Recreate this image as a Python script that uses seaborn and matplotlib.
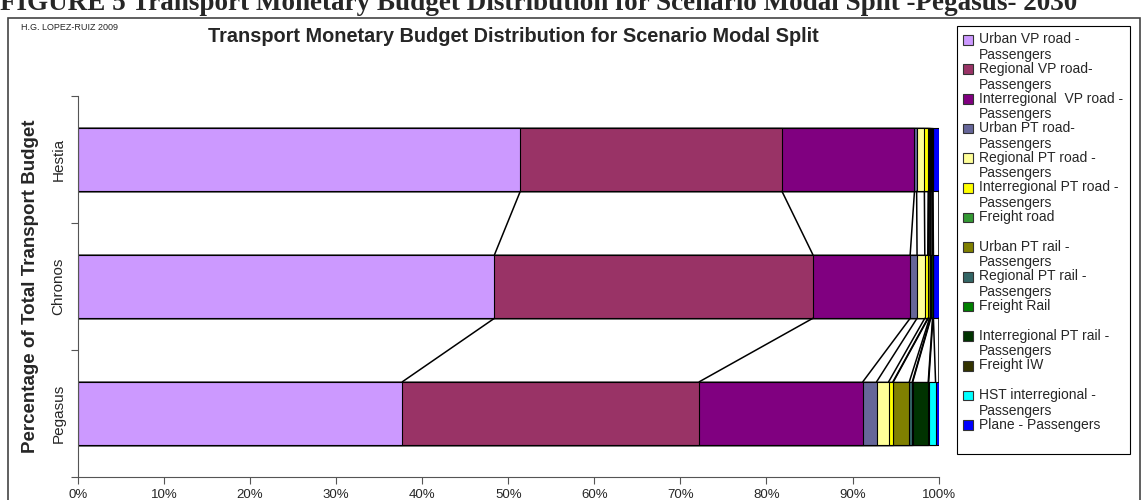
import matplotlib
matplotlib.use('Agg')
import matplotlib.pyplot as plt
import matplotlib.patches as mpatches
from matplotlib.legend_handler import HandlerPatch
from matplotlib.ticker import PercentFormatter
import seaborn as sns
import pandas as pd
import numpy as np

# scenarios (top to bottom) and transport modes (stack order)
scenarios = ['Hestia', 'Chronos', 'Pegasus']
modes = ['Urban VP road -\nPassengers', 'Regional VP road-\nPassengers',
         'Interregional  VP road -\nPassengers', 'Urban PT road-\nPassengers',
         'Regional PT road -\nPassengers', 'Interregional PT road -\nPassengers',
         'Freight road\n ', 'Urban PT rail -\nPassengers', 'Regional PT rail -\nPassengers',
         'Freight Rail\n ', 'Interregional PT rail -\nPassengers', 'Freight IW\n ',
         'HST interregional -\nPassengers', 'Plane - Passengers\n ']
colors = ['#CC99FF', '#993366', '#800080', '#666699', '#FFFF99', '#FFFF00', '#339933',
          '#808000', '#336666', '#008000', '#003300', '#333300', '#00FFFF', '#0000FF']

# share of total budget (%) per mode
hestia = [51.4, 30.4, 15.4, 0.25, 0.9, 0.45, 0.05, 0.1, 0.1, 0.05, 0.15, 0.05, 0.05, 0.65]
chronos = [48.4, 37.0, 11.3, 0.8, 0.9, 0.35, 0.05, 0.15, 0.1, 0.05, 0.2, 0.05, 0.05, 0.6]
pegasus = [37.7, 34.5, 19.0, 1.6, 1.4, 0.5, 0.05, 1.85, 0.35, 0.05, 1.8, 0.05, 0.8, 0.35]

# cumulative table for the stacked bars
vals = np.array([hestia, chronos, pegasus])
cum = np.cumsum(vals, axis=1)
cum = cum / cum[:, -1:] * 100
df = pd.DataFrame(cum, index=scenarios, columns=range(len(modes)))

sns.set_style('white')
plt.rcParams['font.family'] = ['Liberation Sans', 'DejaVu Sans']

fig = plt.figure(figsize=(11.46, 5.0), dpi=100)
ax = fig.add_axes([0.068, 0.046, 0.751, 0.762])

# draw cumulative bars from the longest to the shortest
for i in range(len(modes) - 1, -1, -1):
    sns.barplot(x=df[i].values, y=scenarios, orient='h', color=colors[i], saturation=1,
                width=0.5, edgecolor='black', linewidth=0.8, ax=ax)

# series lines between bars
for i in range(len(modes)):
    for j in range(len(scenarios) - 1):
        ax.plot([cum[j, i], cum[j + 1, i]], [j + 0.25, j + 1 - 0.25],
                color='black', lw=1.1, zorder=1)

ax.set_xlim(0, 100)
ax.set_ylim(2.5, -0.5)
ax.set_xticks(np.arange(0, 101, 10))
ax.xaxis.set_major_formatter(PercentFormatter(decimals=0))
ax.set_yticks([-0.5, 0.5, 1.5, 2.5])
ax.set_yticklabels([])
ax.set_yticks(range(len(scenarios)), scenarios, minor=True, rotation=90, va='center', fontsize=11)
ax.tick_params(axis='y', which='minor', length=0, pad=9)
ax.tick_params(axis='y', which='major', length=5, direction='out', color='#555555', left=True)
ax.tick_params(axis='x', length=5, direction='out', color='#555555', bottom=True, labelsize=9.5)
for s in ['top', 'right']:
    ax.spines[s].set_visible(False)
for s in ['left', 'bottom']:
    ax.spines[s].set_color('#555555')
ax.set_xlabel('')
ax.set_ylabel('Percentage of Total Transport Budget', fontsize=13.5, fontweight='bold', labelpad=9)

# title texts
fig.text(0.448, 0.926, 'Transport Monetary Budget Distribution for Scenario Modal Split',
         ha='center', va='center', fontsize=14.3, fontweight='bold')
fig.text(0.018, 0.944, 'H.G. LOPEZ-RUIZ 2009', ha='left', va='center', fontsize=6.5)
fig.text(0.0, 0.98, 'FIGURE 5 Transport Monetary Budget Distribution for Scenario Modal Split -Pegasus- 2030',
         ha='left', va='baseline', fontsize=19.5, fontweight='bold', family=['Liberation Serif'])

# chart frame
fig.patches.append(mpatches.Rectangle((0.007, -0.05), 0.988, 1.014, transform=fig.transFigure,
                                      fill=False, edgecolor='#444444', lw=1.2))


# legend with the swatch on the first text line
def top_patch(legend, orig_handle, xdescent, ydescent, width, height, fontsize):
    return mpatches.Rectangle((-xdescent, -ydescent + 0.58 * fontsize), width, height)


handles = [mpatches.Patch(facecolor=c, edgecolor='#333333', lw=0.8) for c in colors]
leg = fig.legend(handles, modes, loc='upper left', bbox_to_anchor=(957 / 1146, 1 - 26 / 500),
                 borderaxespad=0, fontsize=10, frameon=True, fancybox=False, framealpha=1,
                 edgecolor='black', labelspacing=0, handlelength=0.7, handleheight=0.7,
                 handletextpad=0.45, borderpad=0.45,
                 handler_map={mpatches.Patch: HandlerPatch(patch_func=top_patch)})
leg.get_frame().set_linewidth(0.8)
for t in leg.get_texts():
    t.set_linespacing(1.15)

fig.savefig('out.png', dpi=100)
